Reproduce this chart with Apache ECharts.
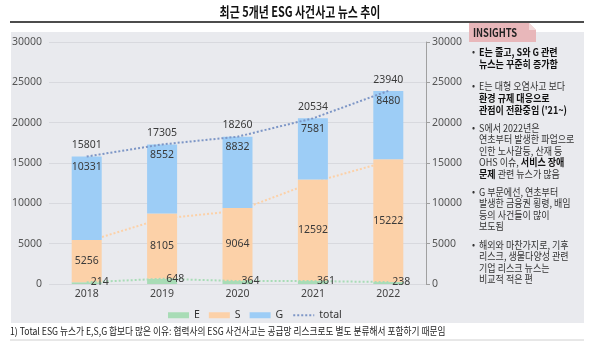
<!DOCTYPE html>
<html><head><meta charset="utf-8">
<script src="https://cdn.jsdelivr.net/npm/echarts/dist/echarts.min.js"></script>
<style>html,body{margin:0;padding:0;background:#fff}#c{width:600px;height:341px}</style>
</head><body><div id="c"></div>
<script>
const years = ['2018', '2019', '2020', '2021', '2022'];
const eValues = [214, 648, 364, 361, 238];
const sValues = [5256, 8105, 9064, 12592, 15222];
const gValues = [10331, 8552, 8832, 7581, 8480];
const totalValues = [15801, 17305, 18260, 20534, 23940];
const axisTicks = [0, 5000, 10000, 15000, 20000, 25000, 30000];

const titleText = '최근 5개년 ESG 사건사고 뉴스 추이';
const footText = '1) Total ESG 뉴스가 E,S,G 합보다 많은 이유: 협력사의 ESG 사건사고는 공급망 리스크로도 별도 분류해서 포함하기 때문임';
const insightLines = [
  {bullet: true, t: '{b|E는 줄고, S와 G 관련}', y: 52},
  {t: '{b|뉴스는 꾸준히 증가함}', y: 64},
  {bullet: true, t: '{n|E는 대형 오염사고 보다}', y: 86},
  {t: '{b|환경 규제 대응으로}', y: 98},
  {t: "{b|관점이 전환중임 ('21~)}", y: 110},
  {bullet: true, t: '{n|S에서 2022년은}', y: 128},
  {t: '{n|연초부터 발생한 파업으로}', y: 139.5},
  {t: '{n|인한 노사갈등, 산재 등}', y: 151},
  {t: '{n|OHS 이슈, }{b|서비스 장애}', y: 162.5},
  {t: '{b|문제}{n| 관련 뉴스가 많음}', y: 174},
  {bullet: true, t: '{n|G 부문에선, 연초부터}', y: 192},
  {t: '{n|발생한 금융권 횡령, 배임}', y: 203.5},
  {t: '{n|등의 사건들이 많이}', y: 215},
  {t: '{n|보도됨}', y: 226.5},
  {bullet: true, t: '{n|해외와 마찬가지로, 기후}', y: 245},
  {t: '{n|리스크, 생물다양성 관련}', y: 256.5},
  {t: '{n|기업 리스크 뉴스는}', y: 268},
  {t: '{n|비교적 적은 편}', y: 279.5}
];

const KR = '"Noto Sans CJK KR", "Noto Sans", sans-serif';
const NUM = '"Noto Sans", "Noto Sans CJK KR", sans-serif';
const cE = '#a8dcb6', cS = '#fcd1a8', cG = '#9dcdf6', cT = '#7d96c6';

const chart = echarts.init(document.getElementById('c'), null, {renderer: 'canvas'});

const rich = {
  b: {fontFamily: KR, fontSize: 10.5, fontWeight: 'bold', fill: '#111', color: '#111', lineHeight: 12},
  n: {fontFamily: KR, fontSize: 10.5, fill: '#333', color: '#333', lineHeight: 12}
};
const graphics = [
  {type: 'rect', shape: {x: 11, y: 32, width: 573, height: 291}, style: {fill: '#e9eaee'}, z: -10, silent: true},
  {type: 'line', shape: {x1: 10, y1: 22, x2: 584, y2: 22}, style: {stroke: '#111', lineWidth: 1.6}},
  {type: 'text', x: 300, y: 12, scaleX: 0.78, style: {text: titleText, font: 'bold 14px ' + KR, fill: '#111', textAlign: 'center', textVerticalAlign: 'middle'}},
  {type: 'polygon', shape: {points: [[469, 23], [529, 23], [536, 30], [536, 42], [469, 42]]}, style: {fill: '#e8b7ba'}},
  {type: 'polygon', shape: {points: [[529, 23], [536, 30], [529, 30]]}, style: {fill: '#f3d9da'}},
  {type: 'text', x: 473, y: 32.5, scaleX: 0.85, style: {text: 'INSIGHTS', font: 'bold 11px ' + KR, fill: '#222', textVerticalAlign: 'middle'}},
  {type: 'text', x: 10, y: 331, scaleX: 0.87, style: {text: footText, font: '10px ' + KR, fill: '#222', textVerticalAlign: 'middle'}},
  {type: 'line', shape: {x1: 10, y1: 340, x2: 584, y2: 340}, style: {stroke: '#d0d0d0', lineWidth: 1}}
];
insightLines.forEach(l => {
  if (l.bullet) graphics.push({type: 'text', x: 472, y: l.y, style: {text: '•', font: '9px ' + KR, fill: '#333', textVerticalAlign: 'middle'}});
  graphics.push({type: 'text', x: 479, y: l.y, scaleX: 0.86, style: {text: l.t, rich: rich, textVerticalAlign: 'middle'}});
});

const labelBase = {color: '#3a3a3a', fontSize: 10.5, fontFamily: NUM};
const plain = v => String(v);

chart.setOption({
  animation: false,
  backgroundColor: 'transparent',
  grid: {left: 49, right: 174, top: 42, bottom: 57},
  legend: {
    left: 163, top: 305, itemWidth: 21, itemHeight: 6, itemGap: 9,
    textStyle: {color: '#333', fontSize: 10.5, fontFamily: NUM},
    data: [
      {name: 'E', icon: 'rect'}, {name: 'S', icon: 'rect'}, {name: 'G', icon: 'rect'},
      {name: 'total', itemStyle: {opacity: 0}, lineStyle: {color: cT, type: 'dotted', width: 2}}
    ]
  },
  xAxis: {
    type: 'category', data: years,
    axisLine: {show: false}, axisTick: {show: false},
    axisLabel: {color: '#444', fontSize: 10.5, fontFamily: NUM, margin: 5}
  },
  yAxis: [
    {type: 'value', min: axisTicks[0], max: axisTicks[axisTicks.length - 1], interval: 5000,
     axisLine: {show: false}, axisTick: {show: false},
     axisLabel: {color: '#555', fontSize: 10.5, fontFamily: NUM, margin: 7, formatter: plain},
     splitLine: {lineStyle: {color: '#d8d9de'}}},
    {type: 'value', position: 'right', min: axisTicks[0], max: axisTicks[axisTicks.length - 1], interval: 5000,
     axisLine: {show: true, lineStyle: {color: '#a0a0a0'}}, axisTick: {show: true, length: 4, lineStyle: {color: '#a0a0a0'}},
     axisLabel: {color: '#555', fontSize: 10.5, fontFamily: NUM, margin: 6, formatter: plain},
     splitLine: {show: false}}
  ],
  series: [
    {name: 'S-line', type: 'line', data: sValues, z: 1, symbol: 'none', silent: true,
     lineStyle: {color: cS, type: 'dotted', width: 2}},
    {name: 'E', type: 'bar', stack: 'a', data: eValues, barWidth: 30, itemStyle: {color: cE}, z: 2},
    {name: 'S', type: 'bar', stack: 'a', data: sValues, barWidth: 30, itemStyle: {color: cS}, z: 2,
     label: Object.assign({show: true, position: 'inside'}, labelBase)},
    {name: 'G', type: 'bar', stack: 'a', data: gValues, barWidth: 30, itemStyle: {color: cG}, z: 2,
     label: Object.assign({show: true, position: 'insideTop', distance: 5}, labelBase)},
    {name: 'E-line', type: 'line', data: eValues, z: 3, symbol: 'circle', symbolSize: 0.1, showSymbol: true,
     lineStyle: {color: cE, type: 'dotted', width: 2}, itemStyle: {color: cE},
     label: Object.assign({show: true, position: 'right', distance: 4}, labelBase)},
    {name: 'total', type: 'line', yAxisIndex: 1, data: totalValues, z: 4, symbol: 'circle', symbolSize: 0.1, showSymbol: true,
     lineStyle: {color: cT, type: 'dotted', width: 2}, itemStyle: {color: cT},
     label: Object.assign({show: true, position: 'top', distance: 6}, labelBase)}
  ],
  graphic: graphics
});
</script>
</body></html>
